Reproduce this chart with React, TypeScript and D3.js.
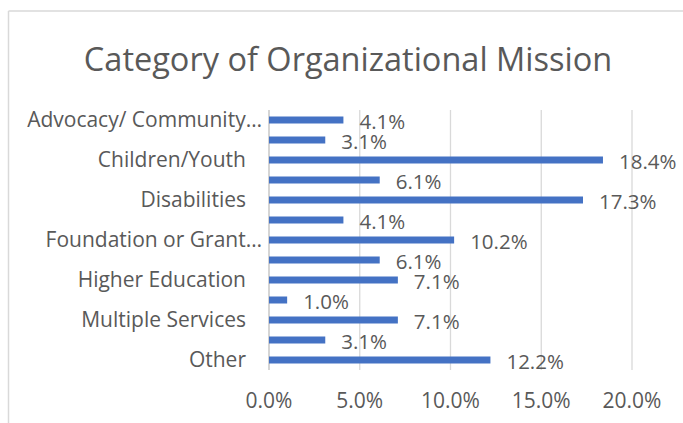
import React from "react";
import * as d3 from "d3";

const title = "Category of Organizational Mission";
const categories = [
  "Advocacy/ Community…",
  "",
  "Children/Youth",
  "",
  "Disabilities",
  "",
  "Foundation or Grant…",
  "",
  "Higher Education",
  "",
  "Multiple Services",
  "",
  "Other",
];
const values = [4.1, 3.1, 18.4, 6.1, 17.3, 4.1, 10.2, 6.1, 7.1, 1.0, 7.1, 3.1, 12.2];
const ticks = [0, 5, 10, 15, 20];

const W = 683;
const H = 423;
const FONT = "'Open Sans', sans-serif";
const TEXT = "#595959";
const BAR = "#4472C4";

export default function App() {
  const x = d3.scaleLinear().domain([0, 20]).range([269, 632]);
  const y = d3
    .scaleBand<number>()
    .domain(d3.range(categories.length))
    .range([110, 370])
    .paddingInner(0.65)
    .paddingOuter(0.325);
  const bw = y.bandwidth();

  return (
    <svg
      width={W}
      height={H}
      style={{ position: "absolute", left: 0, top: 0, background: "#fff" }}
      fontFamily={FONT}
    >
      {/* chart border */}
      <line x1={8.5} y1={11} x2={W} y2={11} stroke="#d9d9d9" strokeWidth={1.5} />
      <line x1={8.5} y1={11} x2={8.5} y2={H} stroke="#d9d9d9" strokeWidth={1.5} />

      <text x={348} y={71} textAnchor="middle" fontSize={32.5} fill={TEXT}>
        {title}
      </text>

      {/* gridlines */}
      {ticks.slice(1).map((t) => (
        <line key={t} x1={x(t)} x2={x(t)} y1={110} y2={370} stroke="#d9d9d9" strokeWidth={1.3} />
      ))}
      <line x1={x(0)} x2={x(0)} y1={110} y2={370} stroke="#bfbfbf" strokeWidth={1.3} />

      {/* bars */}
      {values.map((v, i) => (
        <rect key={i} x={x(0)} y={y(i)!} width={x(v) - x(0)} height={bw} fill={BAR} />
      ))}

      {/* value labels */}
      {values.map((v, i) => (
        <text
          key={i}
          x={x(v) + 16}
          y={y(i)! + bw / 2 + 8.5}
          fontSize={20.5}
          fill={TEXT}
        >
          {v.toFixed(1) + "%"}
        </text>
      ))}

      {/* category labels */}
      {categories.map((c, i) =>
        c ? (
          <text
            key={i}
            x={c.endsWith("…") ? 262 : 246}
            y={y(i)! + bw / 2 + 7}
            textAnchor="end"
            fontSize={21}
            fill={TEXT}
          >
            {c}
          </text>
        ) : null
      )}

      {/* tick labels */}
      {ticks.map((t) => (
        <text key={t} x={x(t)} y={408} textAnchor="middle" fontSize={21} fill={TEXT}>
          {t.toFixed(1) + "%"}
        </text>
      ))}
    </svg>
  );
}
